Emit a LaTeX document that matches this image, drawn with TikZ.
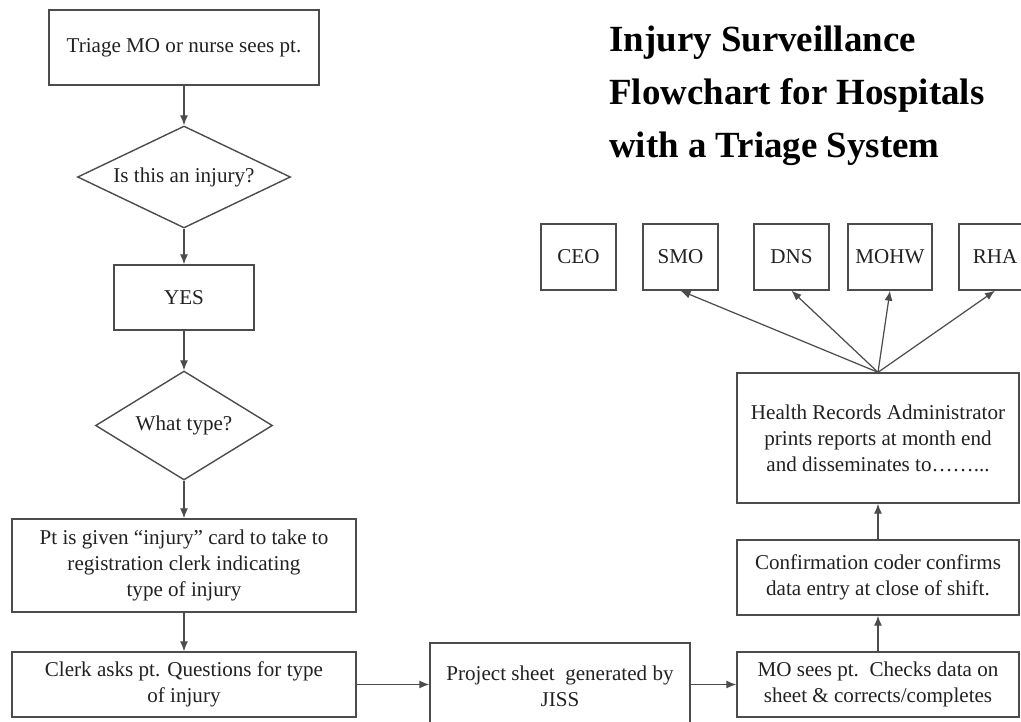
\documentclass[tikz,border=0pt]{standalone}
\usepackage{fontspec}
\setmainfont{Liberation Serif}
\usetikzlibrary{shapes.geometric,arrows.meta}
\definecolor{LineGray}{rgb}{0.3,0.3,0.3}
\definecolor{TextGray}{rgb}{0.13,0.13,0.13}

\begin{document}
\begin{tikzpicture}[x=0.02cm,y=-0.02cm,
  box/.style={draw=LineGray,line width=.8pt,text=TextGray,align=center,inner sep=2pt,font=\fontsize{12}{14.8}\selectfont},
  decision/.style={box,diamond,aspect=2,inner sep=0pt},
  flow/.style={draw=LineGray,line width=.7pt,-{Latex[length=2mm,width=1.6mm]}}]
\useasboundingbox (0,0) rectangle (1021,721);

\node[box,minimum width=5.4cm,minimum height=1.5cm] (triage) at (184,47.5) {Triage MO or nurse sees pt.};
\node[decision,minimum width=4.26cm,minimum height=2.04cm] (injq) at (184,177) {Is this an injury?};
\node[box,minimum width=2.8cm,minimum height=1.3cm] (yes) at (184,297.5) {YES};
\node[decision,minimum width=3.54cm,minimum height=2.18cm] (typeq) at (184,425.5) {What type?};
\node[box,minimum width=6.88cm,minimum height=1.86cm] (card) at (184,565.5) {Pt is given “injury” card to take to\\registration clerk indicating\\type of injury};
\node[box,minimum width=6.88cm,minimum height=1.3cm] (clerk) at (184,684.5) {Clerk asks pt. Questions for type\\of injury};
\node[box,minimum width=5.2cm,minimum height=1.72cm] (proj) at (560,686) {Project sheet\ \ generated by\\JISS};
\node[box,minimum width=5.64cm,minimum height=1.3cm] (mo) at (878,684.5) {MO sees pt.\ \ Checks data on\\sheet \& corrects/completes};
\node[box,minimum width=5.64cm,minimum height=1.5cm] (conf) at (878,577.5) {Confirmation coder confirms\\data entry at close of shift.};
\node[box,minimum width=5.64cm,minimum height=2.6cm] (health) at (878,438) {Health Records Administrator\\prints reports at month end\\and disseminates to……...};

\node[box,minimum width=1.5cm,minimum height=1.32cm] (ceo) at (578.5,257) {CEO};
\node[box,minimum width=1.5cm,minimum height=1.32cm] (smo) at (680.5,257) {SMO};
\node[box,minimum width=1.5cm,minimum height=1.32cm] (dns) at (791.5,257) {DNS};
\node[box,minimum width=1.68cm,minimum height=1.32cm] (mohw) at (890,257) {MOHW};
\node[box,minimum width=1.44cm,minimum height=1.32cm] (rha) at (995,257) {RHA};

\node[anchor=north west,align=left,inner sep=0pt,text=black,font=\bfseries\fontsize{21}{30}\selectfont] (title) at (609,26) {Injury Surveillance\\Flowchart for Hospitals\\with a Triage System};

\draw[flow] (triage) -- (injq);
\draw[flow] (injq) -- (yes);
\draw[flow] (yes) -- (typeq);
\draw[flow] (typeq) -- (card);
\draw[flow] (card) -- (clerk);
\draw[flow] (clerk.east) -- (clerk.east -| proj.west);
\draw[flow] (mo.west -| proj.east) -- (mo.west);
\draw[flow] (mo) -- (conf);
\draw[flow] (conf) -- (health);
\draw[flow] (health.north) -- (smo.south);
\draw[flow] (health.north) -- (dns.south);
\draw[flow] (health.north) -- (mohw.south);
\draw[flow] (health.north) -- (rha.south);

\end{tikzpicture}
\end{document}
